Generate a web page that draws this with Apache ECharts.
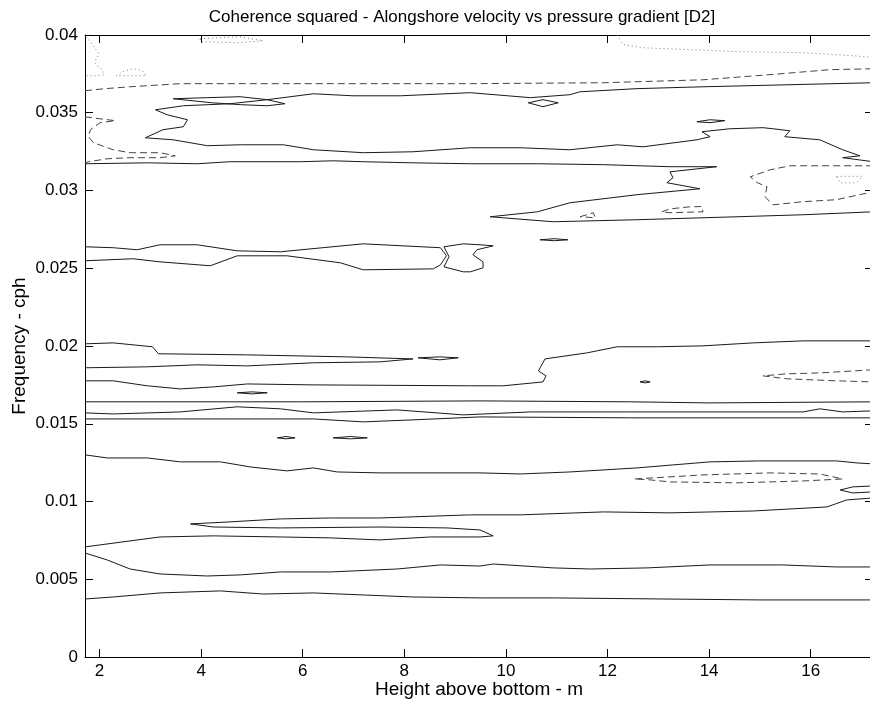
<!DOCTYPE html>
<html>
<head>
<meta charset="utf-8">
<script src="https://cdn.jsdelivr.net/npm/echarts@6/dist/echarts.min.js"></script>
<style>html,body{margin:0;padding:0;background:#fff;}#c{width:870px;height:708px;}</style>
</head>
<body>
<div id="c"></div>
<script>
// ---- axis ticks ----
const xTicks = [2, 4, 6, 8, 10, 12, 14, 16];
const xMin = 1.713, xMax = 17.227;
const yMin = 0, yMax = 0.04, yStep = 0.005;

// ---- contour lines: [height (m), frequency (cph)] ----
// solid
const s1 = [[17.23,0.03693],[13.88,0.03667],[12.58,0.03655],[11.46,0.03635],[11.26,0.03616],[10.48,0.03597],[9.30,0.03629],[7.92,0.03609],[6.99,0.03609],[6.21,0.03622],[5.30,0.03584],[4.57,0.03558],[3.65,0.03545],[3.10,0.03519],[3.33,0.03487],[3.73,0.03455],[3.65,0.03410],[3.25,0.03391],[2.90,0.03339],[3.45,0.03326],[4.12,0.03288],[4.77,0.03294],[5.62,0.03294],[6.21,0.03262],[7.19,0.03243],[8.17,0.03249],[9.30,0.03275],[10.28,0.03275],[11.26,0.03262],[12.19,0.03294],[12.70,0.03281],[13.76,0.03326],[14.02,0.03346],[13.86,0.03378],[14.41,0.03397],[15.06,0.03404],[15.26,0.03397],[15.59,0.03384],[15.49,0.03346],[16.18,0.03326],[16.63,0.03262],[16.97,0.03223],[16.63,0.03211],[17.23,0.03185]];
const s2 = [[3.45,0.03590],[4.12,0.03597],[4.77,0.03603],[5.30,0.03584],[5.65,0.03558],[5.30,0.03545],[4.77,0.03552],[4.22,0.03564],[3.45,0.03590]];
const s3 = [[10.44,0.03564],[10.73,0.03584],[11.03,0.03564],[10.73,0.03539],[10.44,0.03564]];
const s4 = [[13.76,0.03442],[14.02,0.03455],[14.31,0.03449],[14.02,0.03436],[13.76,0.03442]];
const s5 = [[1.713,0.03172],[2.94,0.03178],[3.92,0.03172],[4.57,0.03185],[5.95,0.03185],[6.60,0.03191],[7.19,0.03185],[8.17,0.03178],[9.30,0.03172],[10.62,0.03172],[11.92,0.03166],[13.23,0.03153],[14.15,0.03153],[13.23,0.03120],[13.29,0.03082],[13.17,0.03050],[13.82,0.03011],[12.58,0.02973],[11.26,0.02921],[10.62,0.02863],[9.69,0.02831],[10.93,0.02799],[12.58,0.02812],[14.55,0.02831],[15.85,0.02844],[17.23,0.02863]];
const s6a = [[1.713,0.02548],[2.66,0.02561],[3.19,0.02541],[4.18,0.02516],[4.71,0.02580],[5.69,0.02580],[6.74,0.02535],[7.19,0.02490],[8.57,0.02496],[8.71,0.02522],[8.83,0.02580],[8.71,0.02632],[7.19,0.02657],[5.56,0.02606],[4.71,0.02612],[3.92,0.02651],[3.19,0.02651],[2.74,0.02619],[2.27,0.02632],[1.713,0.02638]];
const s6b = [[8.78,0.02638],[9.16,0.02657],[9.49,0.02651],[9.75,0.02644],[9.43,0.02619],[9.35,0.02587],[9.55,0.02541],[9.55,0.02503],[9.30,0.02477],[9.16,0.02477],[8.78,0.02509],[8.88,0.02574],[8.78,0.02638]];
const s7 = [[10.67,0.02683],[10.95,0.02690],[11.22,0.02683],[10.95,0.02677],[10.67,0.02683]];
const s8 = [[1.713,0.02014],[2.27,0.02020],[3.04,0.01995],[3.16,0.01950],[4.91,0.01943],[6.87,0.01930],[8.17,0.01917],[7.52,0.01898],[6.21,0.01892],[4.91,0.01872],[3.92,0.01879],[2.94,0.01866],[1.713,0.01860]];
const s9 = [[8.27,0.01924],[8.70,0.01930],[9.06,0.01924],[8.70,0.01911],[8.27,0.01924]];
const s10 = [[1.713,0.01776],[2.27,0.01776],[2.94,0.01744],[3.59,0.01724],[4.24,0.01737],[4.91,0.01756],[6.21,0.01750],[9.30,0.01744],[9.95,0.01744],[10.73,0.01769],[10.79,0.01808],[10.64,0.01840],[10.77,0.01917],[11.60,0.01956],[12.19,0.01995],[12.98,0.01995],[13.88,0.02001],[14.87,0.02020],[15.85,0.02033],[17.23,0.02033]];
const s11 = [[4.71,0.01699],[5.00,0.01705],[5.30,0.01699],[5.00,0.01692],[4.71,0.01699]];
const s12 = [[12.64,0.01769],[12.74,0.01776],[12.84,0.01769],[12.74,0.01763],[12.64,0.01769]];
const s13 = [[1.713,0.01641],[5.95,0.01641],[9.49,0.01647],[12.45,0.01641],[14.0,0.01634],[17.23,0.01641]];
const s14 = [[1.713,0.01570],[2.27,0.01563],[3.59,0.01576],[4.71,0.01609],[5.56,0.01596],[6.21,0.01570],[7.86,0.01589],[9.16,0.01557],[10.48,0.01576],[12.45,0.01576],[15.85,0.01576],[16.18,0.01596],[16.63,0.01576],[17.23,0.01583]];
const s15 = [[1.713,0.01531],[3.59,0.01531],[6.21,0.01531],[7.19,0.01512],[8.17,0.01525],[9.49,0.01544],[12.45,0.01538],[15.85,0.01538],[17.23,0.01538]];
const s16a = [[5.50,0.01409],[5.67,0.01418],[5.85,0.01409],[5.67,0.01403],[5.50,0.01409]];
const s16b = [[6.60,0.01409],[6.94,0.01418],[7.27,0.01409],[6.94,0.01403],[6.60,0.01409]];
const s17 = [[1.713,0.01300],[2.15,0.01280],[2.94,0.01280],[3.59,0.01255],[4.38,0.01255],[4.97,0.01222],[5.69,0.01197],[6.21,0.01216],[6.68,0.01190],[7.52,0.01184],[9.49,0.01184],[10.28,0.01177],[11.26,0.01190],[12.58,0.01216],[14.02,0.01255],[15.00,0.01261],[15.85,0.01261],[16.51,0.01261],[16.91,0.01248],[17.23,0.01242]];
const s18 = [[17.23,0.01100],[16.83,0.01094],[16.58,0.01074],[16.83,0.01055],[17.23,0.01062]];
const s19 = [[17.23,0.01023],[16.71,0.01010],[16.32,0.00965],[14.87,0.00939],[13.23,0.00927],[11.92,0.00933],[10.28,0.00914],[9.30,0.00914],[7.52,0.00894],[6.54,0.00894],[5.56,0.00888],[4.57,0.00869],[3.79,0.00856],[4.24,0.00836],[5.56,0.00830],[7.52,0.00836],[8.84,0.00830],[9.49,0.00817],[9.75,0.00779],[9.49,0.00772],[8.51,0.00772],[7.52,0.00753],[6.54,0.00766],[5.56,0.00772],[4.24,0.00779],[3.19,0.00772],[1.713,0.00708]];
const s20 = [[1.713,0.00669],[2.15,0.00624],[2.60,0.00566],[3.19,0.00534],[4.12,0.00521],[4.77,0.00528],[5.56,0.00547],[6.54,0.00547],[7.86,0.00566],[8.71,0.00592],[9.49,0.00585],[9.75,0.00598],[10.93,0.00573],[11.66,0.00566],[12.78,0.00573],[14.02,0.00592],[15.45,0.00592],[16.51,0.00579],[17.23,0.00579]];
const s21 = [[1.713,0.00373],[2.27,0.00386],[3.19,0.00412],[4.38,0.00425],[5.22,0.00405],[6.21,0.00412],[7.19,0.00399],[8.17,0.00386],[9.49,0.00380],[10.93,0.00380],[15.00,0.00367],[17.23,0.00367]];
// dashed
const d1 = [[1.713,0.03642],[2.11,0.03655],[2.60,0.03667],[3.59,0.03687],[9.30,0.03687],[11.92,0.03693],[13.88,0.03712],[15.20,0.03745],[16.38,0.03777],[17.23,0.03783]];
const d2 = [[1.713,0.03474],[2.01,0.03461],[2.31,0.03449],[2.01,0.03436],[1.82,0.03391],[1.78,0.03346],[1.88,0.03307],[2.27,0.03262],[2.60,0.03243],[3.19,0.03243],[3.49,0.03223],[3.19,0.03211],[2.60,0.03211],[2.15,0.03204],[1.78,0.03185],[1.713,0.03178]];
const d3 = [[17.23,0.03159],[15.59,0.03159],[15.20,0.03133],[14.81,0.03088],[14.95,0.03050],[15.14,0.03024],[15.10,0.02960],[15.26,0.02908],[15.85,0.02928],[16.51,0.02941],[17.23,0.02992]];
const d4 = [[13.07,0.02863],[13.23,0.02882],[13.62,0.02895],[13.86,0.02897],[13.88,0.02863],[13.23,0.02857],[13.07,0.02863]];
const d5 = [[11.46,0.02831],[11.72,0.02857],[11.76,0.02825],[11.46,0.02831]];
const d6 = [[17.23,0.01847],[16.18,0.01827],[15.53,0.01821],[15.06,0.01808],[15.53,0.01789],[16.51,0.01776],[17.23,0.01769]];
const d7 = [[12.54,0.01145],[12.90,0.01152],[13.88,0.01171],[15.20,0.01184],[16.18,0.01177],[16.63,0.01145],[15.85,0.01132],[14.55,0.01120],[13.23,0.01126],[12.84,0.01139],[12.54,0.01145]];
// dotted
const p1 = [[1.73,0.03989],[1.82,0.03957],[1.90,0.03918],[1.99,0.03880],[1.95,0.03854],[1.90,0.03828],[1.95,0.03803],[2.05,0.03777],[2.09,0.03745],[1.92,0.03738],[1.713,0.03738]];
const p2 = [[2.33,0.03738],[2.49,0.03770],[2.68,0.03783],[2.84,0.03770],[2.92,0.03738],[2.33,0.03738]];
const p3 = [[3.98,0.03976],[4.75,0.03989],[5.22,0.03963],[4.75,0.03950],[3.98,0.03957],[3.98,0.03976]];
const p4 = [[12.19,0.04],[12.31,0.03938],[12.70,0.03918],[14.55,0.03893],[15.85,0.03886],[16.83,0.03867],[17.23,0.03854]];
const p5 = [[16.51,0.03091],[17.01,0.03091],[16.91,0.03050],[16.58,0.03050],[16.51,0.03091]];

const solidLines = [s1,s2,s3,s4,s5,s6a,s6b,s7,s8,s9,s10,s11,s12,s13,s14,s15,s16a,s16b,s17,s18,s19,s20,s21];
const dashedLines = [d1,d2,d3,d4,d5,d6,d7];
const dottedLines = [p1,p2,p3,p4,p5];

const FONT = '"Liberation Sans", Arial, Helvetica, sans-serif';
const styles = {
  solid:  {color:'#1a1a1a', width:1, type:'solid'},
  dashed: {color:'#444', width:1, type:[7,4]},
  dotted: {color:'#777', width:1, type:[1,3]}
};
function mk(data, kind) {
  return {type:'line', data:data, showSymbol:false, symbol:'none', silent:true,
    animation:false, clip:true, xAxisIndex:0, yAxisIndex:0, lineStyle:styles[kind]};
}
const series = [].concat(
  solidLines.map(d => mk(d,'solid')),
  dashedLines.map(d => mk(d,'dashed')),
  dottedLines.map(d => mk(d,'dotted'))
);

const axisCommon = {
  axisLine:{show:true, onZero:false, lineStyle:{color:'#000', width:1}},
  splitLine:{show:false}
};
const yFmt = v => String(parseFloat(v.toFixed(3)));

const chart = echarts.init(document.getElementById('c'), null, {renderer:'canvas'});
chart.setOption({
  backgroundColor:'#fff',
  animation:false,
  grid:{left:85, top:35, right:-3, bottom:51, containLabel:false, outerBoundsMode:'none'},
  xAxis:[
    Object.assign({}, axisCommon, {type:'value', position:'bottom', min:xMin, max:xMax,
      name:'Height above bottom - m', nameLocation:'middle', nameGap:23, nameMoveOverlap:false,
      nameTextStyle:{color:'#000', fontSize:19, fontFamily:FONT},
      axisTick:{show:true, inside:true, length:8, lineStyle:{color:'#000'}, customValues:xTicks},
      axisLabel:{show:true, color:'#000', fontSize:17, fontFamily:FONT, margin:6, customValues:xTicks}}),
    Object.assign({}, axisCommon, {type:'value', position:'top', min:xMin, max:xMax,
      axisTick:{show:true, inside:true, length:8, lineStyle:{color:'#000'}, customValues:xTicks},
      axisLabel:{show:false, customValues:xTicks}})
  ],
  yAxis:[
    Object.assign({}, axisCommon, {type:'value', position:'left', min:yMin, max:yMax, interval:yStep,
      name:'Frequency - cph', nameLocation:'middle', nameGap:56, nameMoveOverlap:false,
      nameTextStyle:{color:'#000', fontSize:19, fontFamily:FONT},
      axisTick:{show:true, inside:true, length:8, lineStyle:{color:'#000'}},
      axisLabel:{show:true, color:'#000', fontSize:17, fontFamily:FONT, margin:7, formatter:yFmt}}),
    Object.assign({}, axisCommon, {type:'value', position:'right', min:yMin, max:yMax, interval:yStep,
      axisTick:{show:true, inside:true, length:8, lineStyle:{color:'#000'}},
      axisLabel:{show:false}})
  ],
  graphic:[{type:'text', x:462, y:17, silent:true,
    style:{text:'Coherence squared - Alongshore velocity vs pressure gradient [D2]',
      fill:'#000', font:'17px ' + FONT, textAlign:'center', textVerticalAlign:'middle'}}],
  series:series
});
</script>
</body>
</html>
